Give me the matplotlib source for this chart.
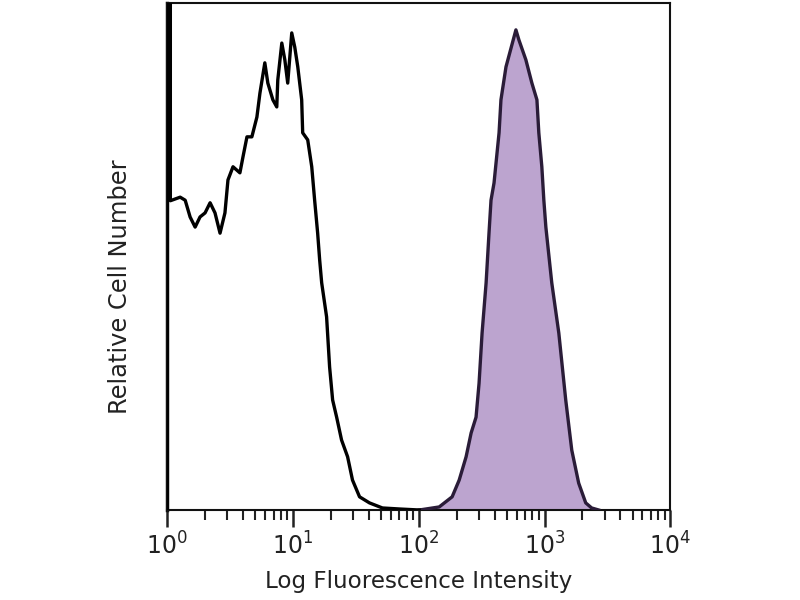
import numpy as np
import matplotlib
matplotlib.use("Agg")
import matplotlib.pyplot as plt
from matplotlib.ticker import LogLocator, FixedLocator, NullFormatter

# Unstained / isotype control (open histogram): log10 intensity and relative count
control_log = [0.000, 0.000, 0.025, 0.025, 0.103, 0.143, 0.182, 0.222, 0.261, 0.301,
               0.341, 0.380, 0.420, 0.459, 0.483, 0.523, 0.578, 0.602, 0.634, 0.673,
               0.713, 0.737, 0.776, 0.800, 0.840, 0.871, 0.879, 0.911, 0.935, 0.958,
               0.990, 1.014, 1.038, 1.069, 1.077, 1.117, 1.149, 1.172, 1.196, 1.212,
               1.228, 1.267, 1.291, 1.315, 1.347, 1.386, 1.434, 1.473, 1.529, 1.608,
               1.711, 1.846, 2.004]
control_cnt = [0.000, 1.200, 1.200, 0.610, 0.617, 0.611, 0.578, 0.558, 0.578, 0.586,
               0.606, 0.586, 0.546, 0.586, 0.651, 0.677, 0.665, 0.696, 0.736, 0.736,
               0.775, 0.822, 0.882, 0.842, 0.809, 0.795, 0.848, 0.921, 0.888, 0.842,
               0.941, 0.913, 0.874, 0.809, 0.744, 0.730, 0.677, 0.611, 0.546, 0.493,
               0.448, 0.381, 0.282, 0.217, 0.183, 0.138, 0.105, 0.059, 0.026, 0.014,
               0.004, 0.002, 0.000]

# Stained sample (filled histogram)
stained_log = [2.004, 2.162, 2.265, 2.321, 2.376, 2.416, 2.455, 2.479, 2.503, 2.535,
               2.558, 2.574, 2.598, 2.638, 2.653, 2.693, 2.772, 2.796, 2.851, 2.899,
               2.939, 2.954, 2.978, 2.994, 3.010, 3.057, 3.113, 3.168, 3.216, 3.271,
               3.327, 3.374, 3.430]
stained_cnt = [0.000, 0.006, 0.026, 0.059, 0.105, 0.152, 0.183, 0.250, 0.349, 0.448,
               0.546, 0.611, 0.645, 0.744, 0.809, 0.874, 0.947, 0.927, 0.888, 0.842,
               0.809, 0.744, 0.677, 0.611, 0.558, 0.448, 0.349, 0.217, 0.118, 0.053,
               0.014, 0.004, 0.000]

decade_labels = [r"$10^0$", r"$10^1$", r"$10^2$", r"$10^3$", r"$10^4$"]

fig = plt.figure(figsize=(8, 6), dpi=100)
ax = fig.add_axes([0.209, 0.15, 0.629, 0.845])

sx = 10 ** np.array(stained_log)
ax.fill_between(sx, stained_cnt, 0, color="#bca4cf", linewidth=0, zorder=2)
ax.plot(sx, stained_cnt, color="#2a1c38", linewidth=2.4, zorder=3)

cx = 10 ** np.array(control_log)
ax.plot(cx, control_cnt, color="black", linewidth=2.4, zorder=4)

ax.set_xscale("log")
ax.set_xlim(1, 1e4)
ax.set_ylim(0, 1.0)

ax.xaxis.set_major_locator(FixedLocator([1, 10, 100, 1000, 10000]))
ax.set_xticklabels(decade_labels)
ax.xaxis.set_minor_locator(LogLocator(base=10, subs=np.arange(2, 10)))
ax.xaxis.set_minor_formatter(NullFormatter())
ax.tick_params(axis="x", which="major", direction="out", length=12, width=1.8,
               labelsize=17, colors="#222222", pad=4)
ax.tick_params(axis="x", which="minor", direction="out", length=7, width=1.5,
               colors="#222222")
ax.set_yticks([])

for s in ax.spines.values():
    s.set_linewidth(1.5)
    s.set_color("#111111")
ax.spines["left"].set_linewidth(2.5)

ax.set_xlabel("Log Fluorescence Intensity", fontsize=16.6, color="#222222")
ax.xaxis.set_label_coords(0.5, -0.118)
ax.set_ylabel("Relative Cell Number", fontsize=17.4, color="#222222")
ax.yaxis.set_label_coords(-0.07, 0.44)

fig.savefig("out.png", dpi=100)
